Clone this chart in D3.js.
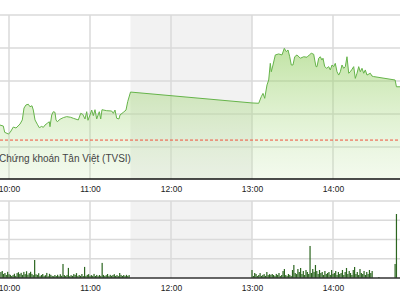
<!DOCTYPE html>
<html>
<head>
<meta charset="utf-8">
<script src="https://cdn.jsdelivr.net/npm/d3@7"></script>
<style>
  body { margin: 0; background: #fff; }
  svg { display: block; }
  .tick text { font-family: "Liberation Sans", Arial, sans-serif; font-size: 8.5px; fill: #222; }
</style>
</head>
<body>
<div id="chart"></div>
<script>
// index line (time, points)
const priceTimes = [
  "09:53:20","09:55:47","09:56:49","09:59:29","10:00:44","10:03:11","10:05:11","10:08:09","10:09:51","10:11:07",
  "10:12:35","10:14:18","10:15:33","10:17:02","10:18:00","10:19:16","10:20:58","10:22:27","10:24:13","10:25:24",
  "10:26:40","10:28:22","10:29:51","10:30:22","10:31:38","10:32:49","10:34:04","10:34:49","10:35:47","10:37:47",
  "10:40:13","10:42:44","10:45:42","10:47:38","10:51:20","10:53:07","10:54:36","10:56:18","10:57:33","10:58:31",
  "11:00:00","11:01:16","11:02:27","11:03:42","11:04:58","11:06:53","11:07:56","11:08:53","11:12:22","11:16:04",
  "11:17:16","11:18:31","11:19:47","11:21:29","11:22:13","11:24:40","11:26:40","11:27:56","11:30:00",
  "13:00:00","13:04:58","13:06:53","13:08:09","13:09:25","13:11:07","13:12:22","13:13:33","13:14:18","13:15:33",
  "13:17:16","13:19:47","13:22:13","13:23:56","13:25:25","13:26:40","13:27:56","13:29:07","13:30:22","13:31:38",
  "13:33:20","13:35:47","13:38:18","13:40:44","13:42:27","13:43:56","13:45:42","13:46:27","13:47:25","13:48:09",
  "13:49:25","13:50:35","13:51:51","13:52:35","13:53:51","13:55:20","13:56:49","13:58:00","13:59:16","14:00:31",
  "14:01:42","14:02:58","14:04:13","14:05:25","14:06:40","14:07:56","14:09:07","14:10:22","14:11:38","14:12:49",
  "14:14:04","14:15:20","14:16:31","14:17:47","14:19:02","14:20:13","14:21:29","14:22:44","14:23:56","14:25:11",
  "14:27:38","14:28:53","14:30:00","14:46:00","14:47:00","14:52:00"
];
const priceValues = [
  575.33,575.27,574.89,574.79,574.87,575.21,575.15,575.39,575.64,576.36,
  576.55,576.59,576.44,576.50,576.24,575.64,575.38,575.17,575.25,575.19,
  575.33,575.44,575.53,575.23,575.94,576.14,576.10,575.64,575.53,575.68,
  575.78,575.84,575.80,575.74,575.64,576.04,575.98,575.70,576.14,575.62,
  575.94,576.24,575.90,576.26,575.70,576.14,575.70,576.26,576.20,576.18,
  576.04,576.24,575.74,575.70,575.94,576.10,576.24,576.75,577.33,
  576.67,576.65,577.05,577.25,576.95,577.76,578.06,579.07,578.56,578.97,
  579.58,579.64,579.58,579.98,579.78,579.88,579.47,578.97,578.97,579.47,
  579.58,579.38,579.47,579.44,579.58,579.68,579.62,579.27,578.87,578.87,
  579.38,579.47,579.27,579.38,578.87,578.77,578.87,578.67,578.97,578.87,
  579.07,578.56,578.36,578.56,578.97,578.77,578.87,579.47,578.47,578.56,
  578.71,578.87,578.16,578.47,578.87,578.56,578.77,578.47,578.67,578.36,
  578.47,578.30,578.27,578.06,577.65,577.65
];
const refValue = 574.42;
const priceTicks = [574, 576, 578, 580, 582];

// volume per minute, thousand shares
const morningStart = "09:54";
const morningVolume = [
  156,182,104,130,78,160,98,82,52,76,110,54,128,150,102,134,80,158,100,176,84,126,162,106,74,468,
  96,80,124,50,78,104,56,72,132,48,108,82,54,46,78,52,84,50,98,56,
  364,76,52,80,262,48,74,54,102,80,126,50,78,56,104,52,288,54,82,100,
  50,76,56,106,52,80,48,78,54,392,80,52,74,104,50,82,56,78,100,54,76,48,130,80,52,78,50,82,54,76
];
const afternoonStart = "13:00";
const afternoonVolume = [
  208,52,130,104,50,78,128,54,80,102,
  54,156,76,100,82,104,78,52,106,80,
  130,50,78,182,234,76,54,104,80,52,
  208,338,130,102,234,156,260,104,182,78,
  208,156,104,832,130,234,158,338,182,104,
  208,130,156,78,182,104,130,156,80,208,
  104,130,182,78,156,104,130,208,78,156,
  260,104,182,130,78,208,286,104,156,78,
  234,130,104,182,78,156,104,208,130,182
];
const lateTimes = ["14:34", "14:46", "14:47"];
const lateVolume = [26, 364, 1662];
const volumeTicks = [0, 500, 1000, 1500, 2000];

const hourTicks = ["10:00", "11:00", "12:00", "13:00", "14:00"];
const lunchBreak = ["11:30", "13:00"];
const sourceText = "Chứng khoán Tân Việt (TVSI)";

const W = 400, H = 300;
const TOP = { y0: 15, y1: 179 }, BOT = { y0: 201, y1: 278 };

const parseT = d3.timeParse("%H:%M:%S");
const t = s => parseT(s.length === 5 ? s + ":00" : s);

const x = d3.scaleTime().domain([t("10:00"), t("14:00")]).range([9, 333]);
const y = d3.scaleLinear().domain([574, 582]).range([147, 15]);
const yv = d3.scaleLinear().domain([0, 2000]).range([BOT.y1, BOT.y0]);

const svg = d3.select("#chart").append("svg")
  .attr("width", W).attr("height", H);

const defs = svg.append("defs");
const grad = defs.append("linearGradient")
  .attr("id", "fillGrad").attr("gradientUnits", "userSpaceOnUse")
  .attr("x1", 0).attr("x2", 0).attr("y1", 48).attr("y2", TOP.y1);
grad.append("stop").attr("offset", 0).attr("stop-color", "#8fcc5a").attr("stop-opacity", 0.55);
grad.append("stop").attr("offset", 1).attr("stop-color", "#c8e8b0").attr("stop-opacity", 0.22);

// lunch break shading
[TOP, BOT].forEach(p => {
  svg.append("rect")
    .attr("x", x(t(lunchBreak[0]))).attr("y", p.y0)
    .attr("width", x(t(lunchBreak[1])) - x(t(lunchBreak[0])))
    .attr("height", p.y1 - p.y0)
    .attr("fill", "#f2f2f2");
});

// grids
function hGrid(vals, scale, color) {
  svg.append("g").selectAll("line").data(vals).join("line")
    .attr("x1", 0).attr("x2", W)
    .attr("y1", d => scale(d)).attr("y2", d => scale(d))
    .attr("stroke", color).attr("stroke-width", 1.5);
}
hGrid(priceTicks, y, "#dadada");
hGrid(volumeTicks.slice(1), yv, "#dadada");

[TOP, BOT].forEach(p => {
  svg.append("g").selectAll("line").data(hourTicks).join("line")
    .attr("x1", d => x(t(d))).attr("x2", d => x(t(d)))
    .attr("y1", p.y0).attr("y2", p.y1)
    .attr("stroke", "#dadada").attr("stroke-width", 1.5);
});

// price area + line
const pts = priceTimes.map((s, i) => ({ t: t(s), v: priceValues[i] }));
svg.append("path").datum(pts)
  .attr("fill", "url(#fillGrad)")
  .attr("d", d3.area().x(d => x(d.t)).y0(TOP.y1).y1(d => y(d.v)));
svg.append("path").datum(pts)
  .attr("fill", "none").attr("stroke", "#66b44a").attr("stroke-width", 1)
  .attr("d", d3.line().x(d => x(d.t)).y(d => y(d.v)));

// reference line
svg.append("line")
  .attr("x1", 0).attr("x2", W).attr("y1", y(refValue)).attr("y2", y(refValue))
  .attr("stroke", "#f0503c").attr("stroke-width", 1).attr("stroke-dasharray", "3,2");

svg.append("text")
  .attr("x", -1).attr("y", 162)
  .attr("font-family", "Liberation Sans, Arial, sans-serif").attr("font-size", 10)
  .attr("fill", "#444")
  .text(sourceText);

// volume bars
const addMin = (s, i) => new Date(t(s).getTime() + i * 60000);
const bars = [];
morningVolume.forEach((v, i) => bars.push({ t: addMin(morningStart, i), v }));
afternoonVolume.forEach((v, i) => bars.push({ t: addMin(afternoonStart, i), v }));
lateTimes.forEach((s, i) => bars.push({ t: t(s), v: lateVolume[i] }));

svg.append("g").selectAll("rect").data(bars).join("rect")
  .attr("x", d => x(d.t) - 0.6).attr("width", 1.2)
  .attr("y", d => yv(d.v)).attr("height", d => yv(0) - yv(d.v))
  .attr("fill", "#2c6620");

// axes
const axis = d3.axisBottom(x)
  .tickValues(hourTicks.map(t))
  .tickFormat(d3.timeFormat("%H:%M"))
  .tickSize(0).tickPadding(7);

const topAxis = svg.append("g").attr("transform", `translate(0,${TOP.y1})`).call(axis);
const botAxis = svg.append("g").attr("transform", `translate(0,${BOT.y1})`).call(axis);
[topAxis, botAxis].forEach(g => {
  g.select(".domain").remove();
});
svg.append("line").attr("x1", 0).attr("x2", W).attr("y1", TOP.y1).attr("y2", TOP.y1)
  .attr("stroke", "#111").attr("stroke-width", 1.5);
svg.append("line").attr("x1", 0).attr("x2", W).attr("y1", BOT.y1).attr("y2", BOT.y1)
  .attr("stroke", "#333").attr("stroke-width", 1.5);
</script>
</body>
</html>
